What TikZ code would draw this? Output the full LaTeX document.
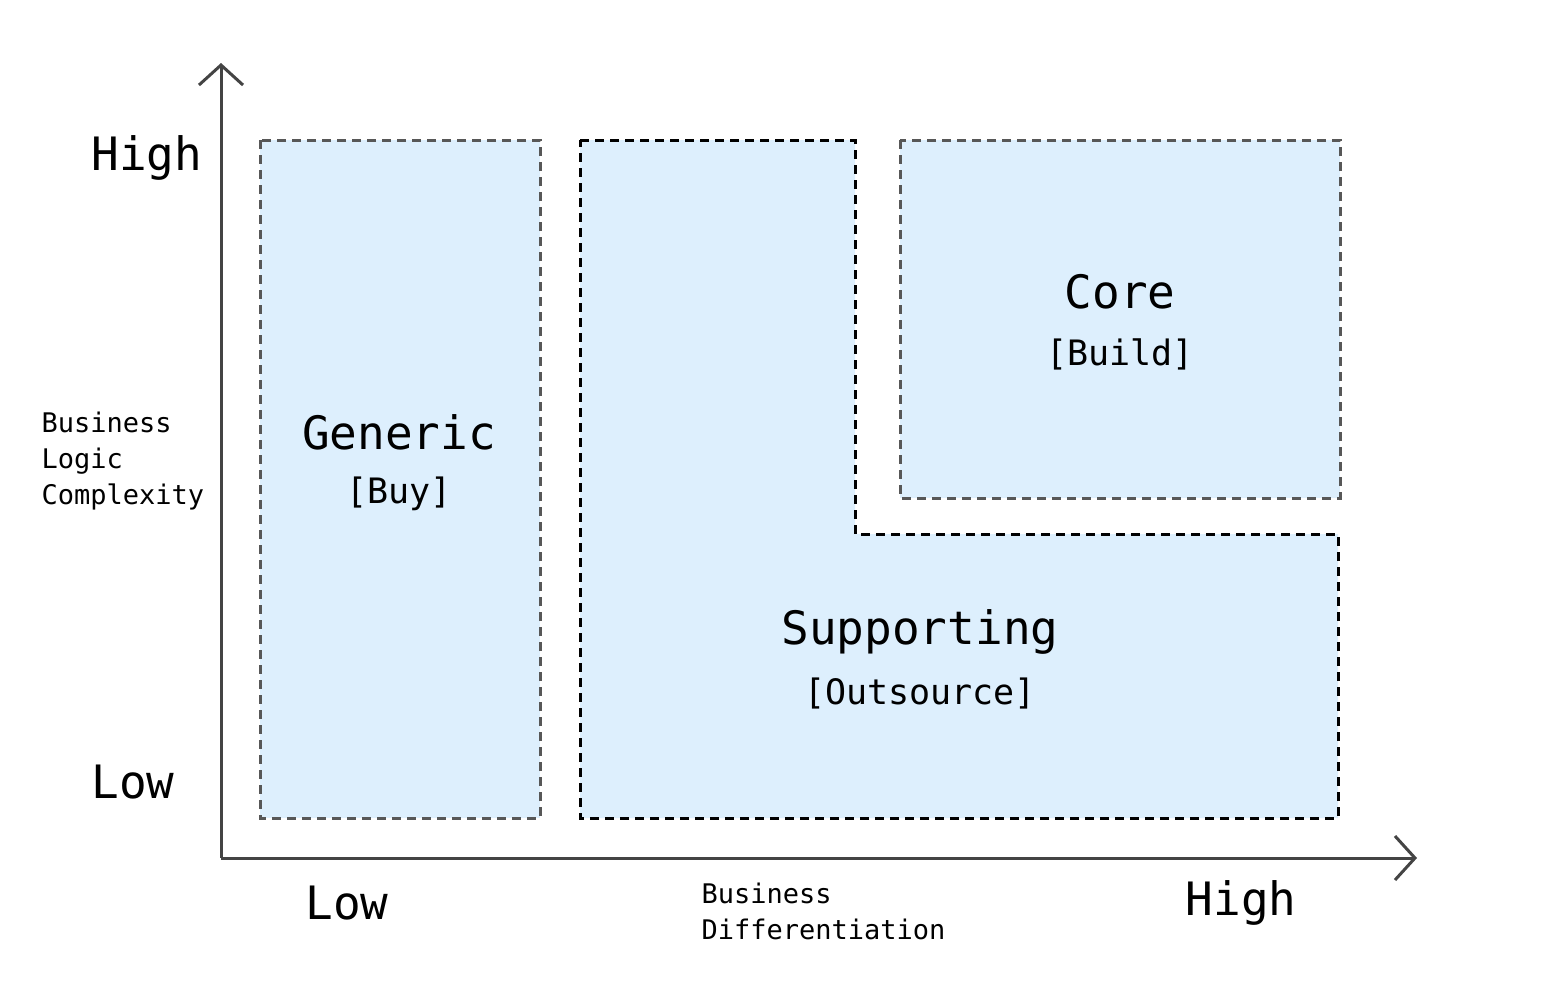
\documentclass[tikz,border=0pt]{standalone}
\usepackage{fontspec}
\setmonofont{DejaVu Sans Mono}
\usetikzlibrary{arrows.meta}
\definecolor{boxfill}{HTML}{DDEFFD}
\definecolor{axisgray}{HTML}{444444}
\tikzset{
  axis/.style={line width=3pt, axisgray, -{Straight Barb[length=20pt,width=44pt,line width=3pt]}},
  region/.style={fill=boxfill, line width=3pt, dash pattern=on 9pt off 6pt},
  big/.style={font=\ttfamily\fontsize{46}{50}\selectfont},
  sub/.style={font=\ttfamily\fontsize{35}{40}\selectfont},
  small/.style={font=\ttfamily\fontsize{27}{36}\selectfont, align=left}
}
\begin{document}
\begin{tikzpicture}[x=1pt,y=-1pt]
    \useasboundingbox (0,0) rectangle (1560,980);

    % regions
    \draw[region, draw=axisgray!90] (260,140) rectangle (540,818);
    \draw[region, draw=black] (580,140) -- (855,140) -- (855,534) -- (1338,534)
        -- (1338,818) -- (580,818) -- cycle;
    \draw[region, draw=axisgray!90] (900,140) rectangle (1340,498);

    % axes
    \coordinate (origin) at (221,858);
    \coordinate (ytop) at (221,63);
    \coordinate (xend) at (1417,858);
    \draw[axis] (origin) -- (ytop);
    \draw[axis] (origin) -- (xend);

    % region labels
    \node[big] (generic) at (399,432) {Generic};
    \node[sub] (buy) at (399,494) {[Buy]};
    \node[big] (core) at (1120,292) {Core};
    \node[sub] (build) at (1120,354) {[Build]};
    \node[big] (supporting) at (920,632) {Supporting};
    \node[sub] (outsource) at (920,694) {[Outsource]};

    % axis labels
    \node[big, anchor=west] (yhigh) at (88,158) {High};
    \node[big, anchor=west] (ylow) at (88,782) {Low};
    \node[big] (xlow) at (347,903) {Low};
    \node[big] (xhigh) at (1241,903) {High};
    \node[small, anchor=west] (ylabel) at (38,461) {Business\\Logic\\Complexity};
    \node[small, anchor=west] (xlabel) at (698,911) {Business\\Differentiation};
\end{tikzpicture}
\end{document}
